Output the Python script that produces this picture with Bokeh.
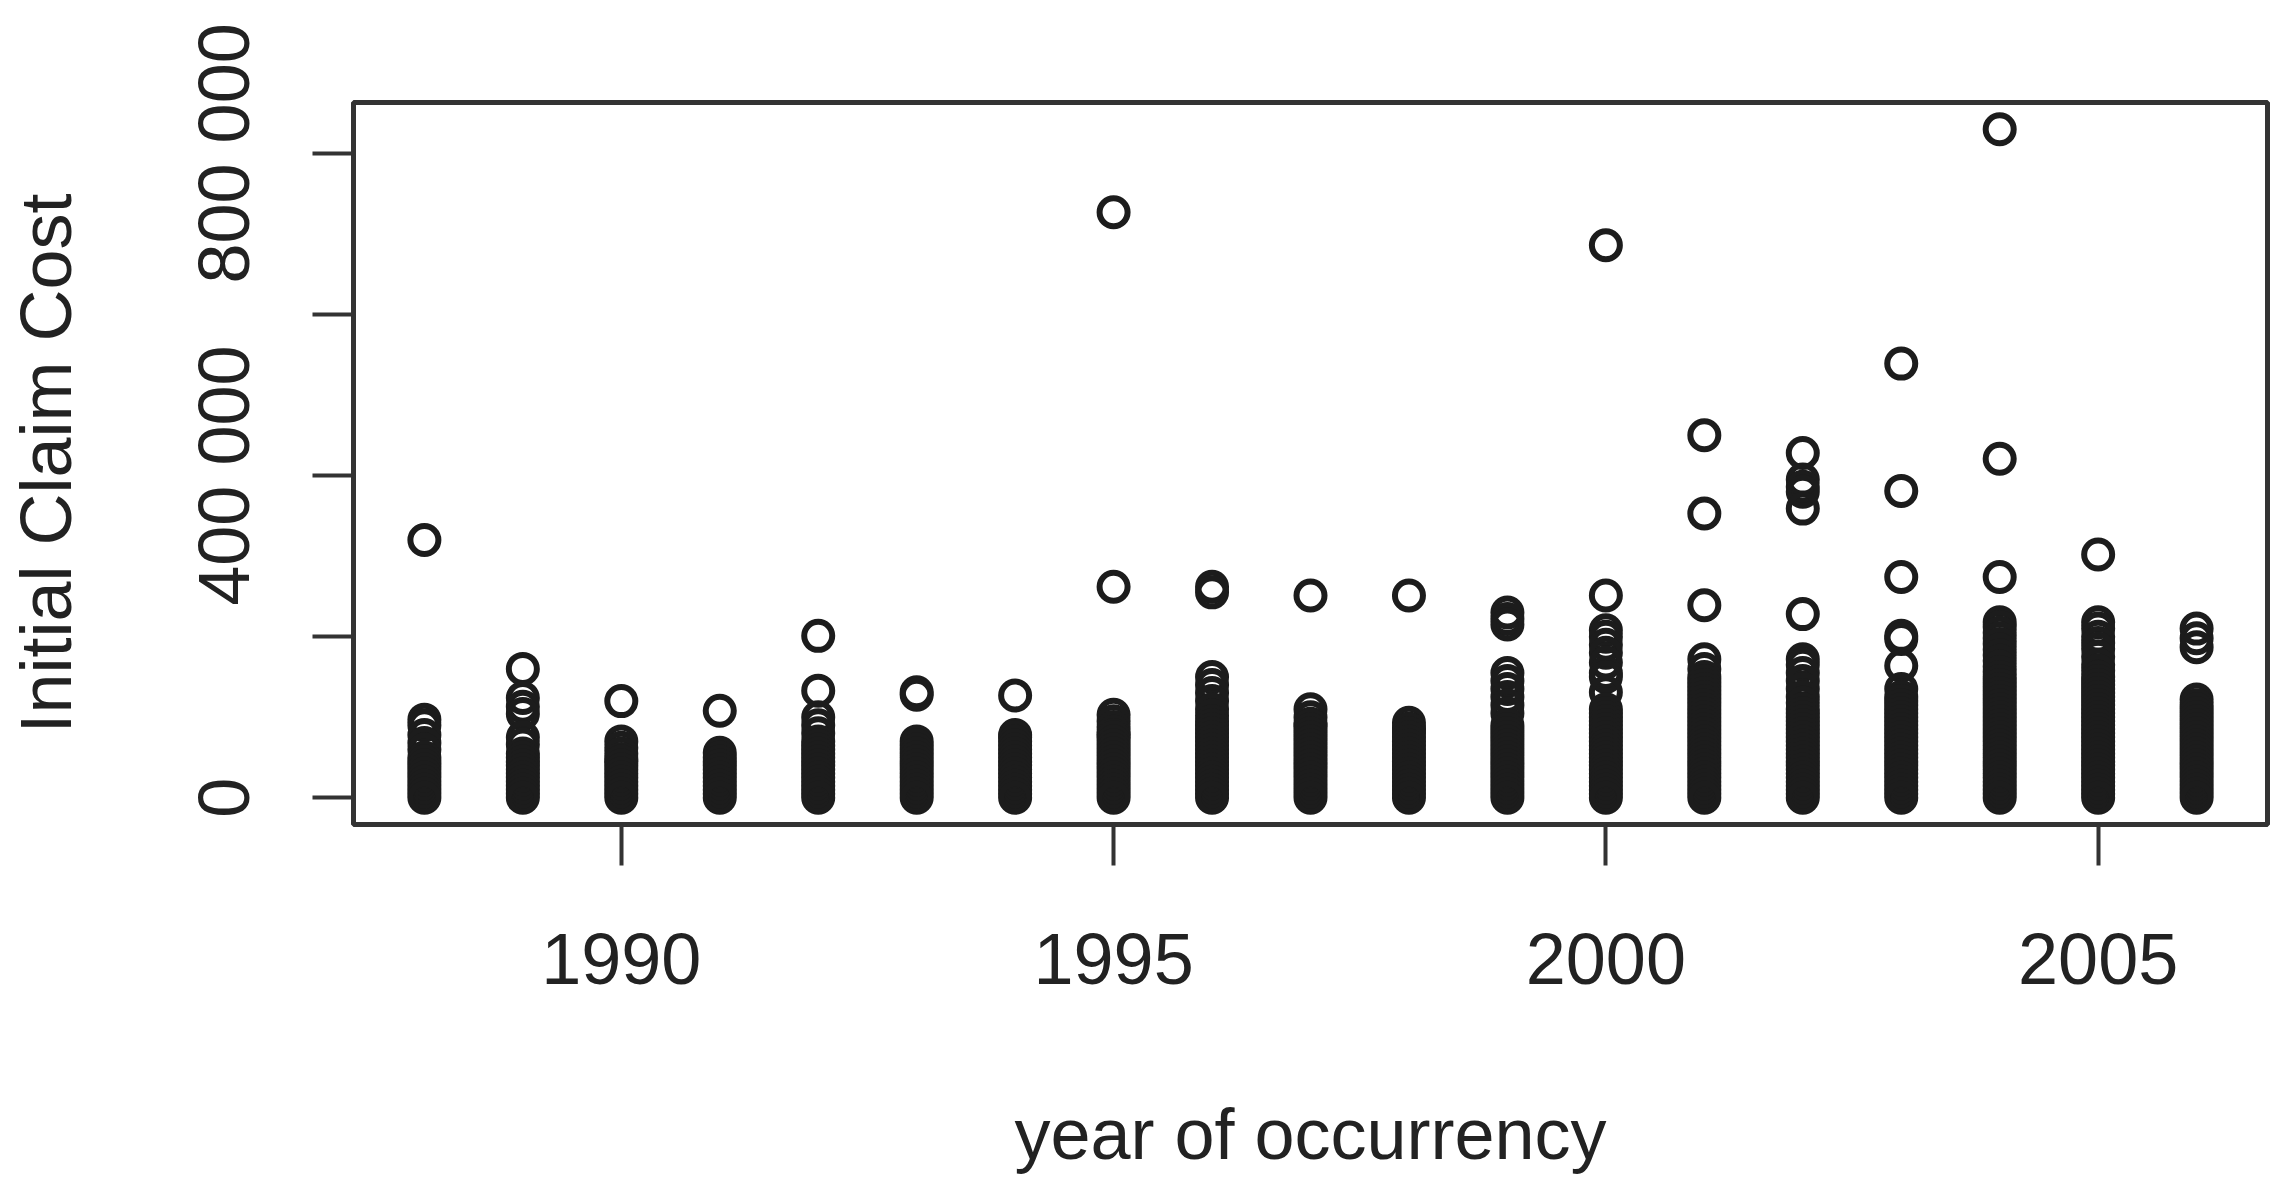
from bokeh.plotting import figure
from bokeh.models import FixedTicker, Range1d, ColumnDataSource
from bokeh.embed import file_html
from bokeh.resources import INLINE

# year of occurrency
years = [1988, 1989, 1990, 1991, 1992, 1993, 1994, 1995, 1996, 1997,
         1998, 1999, 2000, 2001, 2002, 2003, 2004, 2005, 2006]

# initial claim cost per claim, in thousands
c1988 = [320, 97, 90, 78, 68, 60, 50, 45, 40, 35, 30, 25, 20, 15, 10, 5, 0]
c1989 = [160, 124, 113, 104, 75, 66, 55, 50, 45, 40, 35, 30, 25, 20, 15, 10, 5, 0]
c1990 = [120, 70, 62, 55, 48, 45, 40, 35, 30, 25, 20, 15, 10, 5, 0]
c1991 = [108, 56, 50, 45, 40, 35, 30, 25, 20, 15, 10, 5, 0]
c1992 = [201, 133, 100, 90, 80, 70, 65, 60, 55, 50, 45, 40, 35, 30, 25, 20, 15, 10, 5, 0]
c1993 = [131, 128, 70, 65, 60, 55, 50, 45, 40, 35, 30, 25, 20, 15, 10, 5, 0]
c1994 = [127, 78, 75, 70, 65, 60, 55, 50, 45, 40, 35, 30, 25, 20, 15, 10, 5, 0]
c1995 = [727, 262, 103, 95, 88, 82, 78, 75, 70, 65, 60, 55, 50, 45, 40, 35, 30, 25, 20, 15, 10, 5, 0]
c1996 = [262, 255, 150, 140, 130, 120, 110, 102, 95, 90, 85, 80, 75, 70, 65, 60, 55, 50,
         45, 40, 35, 30, 25, 20, 15, 10, 5, 0]
c1997 = [251, 110, 100, 92, 90, 85, 80, 75, 70, 65, 60, 55, 50, 45, 40, 35, 30, 25, 20, 15, 10, 5, 0]
c1998 = [251, 93, 86, 85, 80, 75, 70, 65, 60, 55, 50, 45, 40, 35, 30, 25, 20, 15, 10, 5, 0]
c1999 = [230, 222, 215, 155, 145, 135, 125, 115, 105, 90, 85, 80, 75, 70, 65, 60, 55, 50,
         45, 40, 35, 30, 25, 20, 15, 10, 5, 0]
c2000 = [686, 251, 208, 200, 190, 180, 168, 155, 150, 131, 110, 105, 100, 95, 90, 85, 80,
         75, 70, 65, 60, 55, 50, 45, 40, 35, 30, 25, 20, 15, 10, 5, 0]
c2001 = [450, 353, 239, 172, 160, 150, 145, 140, 135, 130, 125, 120, 115, 110, 105, 100, 95,
         90, 85, 80, 75, 70, 65, 60, 55, 50, 45, 40, 35, 30, 25, 20, 15, 10, 5, 0]
c2002 = [428, 395, 386, 380, 359, 228, 172, 165, 155, 145, 135, 125, 118, 110, 105, 100, 95,
         90, 85, 80, 75, 70, 65, 60, 55, 50, 45, 40, 35, 30, 25, 20, 15, 10, 5, 0]
c2003 = [539, 381, 274, 201, 197, 164, 135, 125, 120, 115, 110, 105, 100, 95, 90, 85, 80,
         75, 70, 65, 60, 55, 50, 45, 40, 35, 30, 25, 20, 15, 10, 5, 0]
c2004 = [830, 421, 274, 218, 212, 205, 198, 191, 184, 177, 170, 163, 156, 150, 145, 140,
         135, 130, 125, 120, 115, 110, 105, 100, 95, 90, 85, 80, 75, 70, 65, 60, 55, 50,
         45, 40, 35, 30, 25, 20, 15, 10, 5, 0]
c2005 = [302, 218, 210, 200, 192, 185, 175, 165, 158, 150, 145, 140, 135, 130, 125, 120,
         115, 110, 105, 100, 95, 90, 85, 80, 75, 70, 65, 60, 55, 50, 45, 40, 35, 30, 25,
         20, 15, 10, 5, 0]
c2006 = [210, 198, 187, 122, 115, 110, 105, 100, 95, 90, 85, 80, 75, 70, 65, 60, 55, 50,
         45, 40, 35, 30, 25, 20, 15, 10, 5, 0]

claims = [c1988, c1989, c1990, c1991, c1992, c1993, c1994, c1995, c1996, c1997,
          c1998, c1999, c2000, c2001, c2002, c2003, c2004, c2005, c2006]

x_ticks = [1990, 1995, 2000, 2005]
y_ticks = [0, 200000, 400000, 600000, 800000]
y_tick_labels = ["0", "", "400 000", "", "800 000"]

xs, ys = [], []
for yr, vals in zip(years, claims):
    for v in vals:
        xs.append(yr)
        ys.append(v * 1000)
src = ColumnDataSource(dict(x=xs, y=ys))

xlo, xhi = min(years), max(years)
xpad = 0.04 * (xhi - xlo)
ylo, yhi = 0, max(ys)
ypad = 0.04 * (yhi - ylo)

p = figure(width=2276, height=1181, output_backend="svg", toolbar_location=None,
           x_range=Range1d(xlo - xpad, xhi + xpad),
           y_range=Range1d(ylo - ypad, yhi + ypad),
           min_border_left=353, min_border_right=9, min_border_top=102,
           min_border_bottom=357)

p.scatter("x", "y", source=src, marker="circle", size=28, fill_color=None,
          line_color="#1c1c1c", line_width=6)

p.xgrid.visible = False
p.ygrid.visible = False
p.outline_line_color = "#333333"
p.outline_line_width = 5

font = "Liberation Sans"
for ax in (p.xaxis[0], p.yaxis[0]):
    ax.axis_line_color = None
    ax.major_tick_out = 41
    ax.major_tick_in = 0
    ax.major_tick_line_width = 4
    ax.major_tick_line_color = "#333333"
    ax.minor_tick_line_color = None
    ax.major_label_text_font = font
    ax.major_label_text_font_size = "72px"
    ax.major_label_text_color = "#222222"
    ax.axis_label_text_font = font
    ax.axis_label_text_font_size = "72px"
    ax.axis_label_text_font_style = "normal"
    ax.axis_label_text_color = "#222222"

p.xaxis[0].ticker = FixedTicker(ticks=x_ticks)
p.xaxis[0].axis_label = "year of occurrency"
p.xaxis[0].major_label_standoff = 68
p.xaxis[0].axis_label_standoff = 107

p.yaxis[0].ticker = FixedTicker(ticks=y_ticks)
p.yaxis[0].major_label_overrides = {t: l for t, l in zip(y_ticks, y_tick_labels)}
p.yaxis[0].major_label_orientation = "vertical"
p.yaxis[0].axis_label = "Initial Claim Cost"
p.yaxis[0].major_label_standoff = 48
p.yaxis[0].axis_label_standoff = 96

open("out.html", "w").write(file_html(p, INLINE))
